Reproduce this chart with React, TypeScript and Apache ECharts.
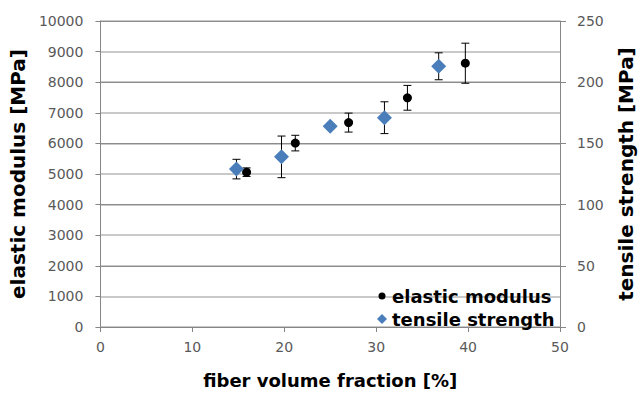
import React, { useEffect, useRef } from "react";
import * as echarts from "echarts";

// fiber volume fraction [%] for the elastic modulus measurements
const fiberE: number[] = [15.9, 21.2, 27.0, 33.4, 39.7];
// elastic modulus [MPa]
const modulus: number[] = [5060, 6010, 6680, 7490, 8620];
const modulusErr: number[] = [140, 255, 310, 405, 655];

// fiber volume fraction [%] for the tensile strength measurements
const fiberT: number[] = [14.8, 19.7, 25.0, 30.9, 36.8];
// tensile strength [MPa]
const strength: number[] = [129, 139, 164, 171, 213];
const strengthErr: number[] = [8, 17, 2, 13, 11];

const xTicks = { min: 0, max: 50, interval: 10 };
const leftTicks = { min: 0, max: 10000, interval: 1000 };
const rightTicks = { min: 0, max: 250, interval: 50 };

const seriesNames = ["elastic modulus", "tensile strength"];

const FONT = "DejaVu Sans";
const LABEL_COLOR = "#595959";
const AXIS_COLOR = "#868686";
const BLUE = "#4a7ebb";

// small circle icon padded inside a 10x10 box (legend shows a smaller dot)
const SMALL_DOT =
  "path://M0 0M10 10M1.5 5A3.5 3.5 0 1 1 8.5 5A3.5 3.5 0 1 1 1.5 5Z";

function errorBars(xs: number[], ys: number[], errs: number[]) {
  return xs.map((x, i) => [x, ys[i] - errs[i], ys[i] + errs[i]]);
}

function renderErrorBar(params: any, api: any) {
  const x = api.value(0);
  const lo = api.coord([x, api.value(1)]);
  const hi = api.coord([x, api.value(2)]);
  const half = 4;
  const style = { stroke: "#000", lineWidth: 1 };
  return {
    type: "group",
    children: [
      { type: "line", shape: { x1: lo[0], y1: lo[1], x2: hi[0], y2: hi[1] }, style },
      { type: "line", shape: { x1: lo[0] - half, y1: lo[1], x2: lo[0] + half, y2: lo[1] }, style },
      { type: "line", shape: { x1: hi[0] - half, y1: hi[1], x2: hi[0] + half, y2: hi[1] }, style },
    ],
  };
}

const plain = (v: number) => String(v);

export default function App() {
  const ref = useRef<HTMLDivElement>(null);

  useEffect(() => {
    if (!ref.current) return;
    const chart = echarts.init(ref.current, undefined, { renderer: "svg" });
    const axisLabel = { color: LABEL_COLOR, fontFamily: FONT, fontSize: 14, formatter: plain };
    const titleStyle = { color: "#000", fontFamily: FONT, fontWeight: "bold" as const, fontSize: 20 };
    chart.setOption({
      animation: false,
      backgroundColor: "#fff",
      grid: { left: 100, right: 76, top: 21, bottom: 60, containLabel: false },
      legend: {
        orient: "vertical",
        left: 372,
        top: 281,
        itemWidth: 10,
        itemHeight: 10,
        itemGap: 3,
        textStyle: { color: "#000", fontFamily: FONT, fontWeight: "bold", fontSize: 18, lineHeight: 20 },
        data: [
          { name: seriesNames[0], icon: SMALL_DOT },
          { name: seriesNames[1], icon: "diamond" },
        ],
      },
      xAxis: {
        type: "value",
        ...xTicks,
        name: "fiber volume fraction [%]",
        nameLocation: "middle",
        nameGap: 44,
        nameTextStyle: { ...titleStyle, fontSize: 18 },
        axisLine: { show: true, lineStyle: { color: AXIS_COLOR } },
        axisTick: { show: true, length: 5, lineStyle: { color: AXIS_COLOR } },
        axisLabel: { ...axisLabel, margin: 13 },
        splitLine: { show: false },
      },
      yAxis: [
        {
          type: "value",
          ...leftTicks,
          position: "left",
          name: "elastic modulus [MPa]",
          nameLocation: "middle",
          nameRotate: 90,
          nameGap: 66,
          nameTextStyle: titleStyle,
          axisLine: { show: true, lineStyle: { color: AXIS_COLOR } },
          axisTick: { show: true, length: 5, lineStyle: { color: AXIS_COLOR } },
          axisLabel: { ...axisLabel, margin: 17 },
          splitLine: { show: true, lineStyle: { color: "#c9c9c9", width: 2 } },
        },
        {
          type: "value",
          ...rightTicks,
          position: "right",
          name: "tensile strength [MPa]",
          nameLocation: "middle",
          nameRotate: 90,
          nameGap: 56,
          nameTextStyle: titleStyle,
          axisLine: { show: true, lineStyle: { color: AXIS_COLOR } },
          axisTick: { show: true, length: 6, lineStyle: { color: AXIS_COLOR } },
          axisLabel: { ...axisLabel, margin: 17 },
          splitLine: { show: true, lineStyle: { color: "#8c8c8c", width: 1 } },
        },
      ],
      series: [
        {
          type: "custom",
          name: "modulusErr",
          xAxisIndex: 0,
          yAxisIndex: 0,
          renderItem: renderErrorBar,
          data: errorBars(fiberE, modulus, modulusErr),
          z: 3,
          silent: true,
        },
        {
          type: "custom",
          name: "strengthErr",
          xAxisIndex: 0,
          yAxisIndex: 1,
          renderItem: renderErrorBar,
          data: errorBars(fiberT, strength, strengthErr),
          z: 3,
          silent: true,
        },
        {
          type: "scatter",
          name: seriesNames[0],
          xAxisIndex: 0,
          yAxisIndex: 0,
          symbol: "circle",
          symbolSize: 9,
          itemStyle: { color: "#000", opacity: 1 },
          data: fiberE.map((x, i) => [x, modulus[i]]),
          z: 4,
        },
        {
          type: "scatter",
          name: seriesNames[1],
          xAxisIndex: 0,
          yAxisIndex: 1,
          symbol: "diamond",
          symbolSize: 15,
          itemStyle: { color: BLUE, opacity: 1 },
          data: fiberT.map((x, i) => [x, strength[i]]),
          z: 4,
        },
      ],
    });
    return () => chart.dispose();
  }, []);

  return (
    <div
      ref={ref}
      style={{ position: "fixed", left: 0, top: 0, width: 644, height: 394, background: "#fff" }}
    />
  );
}
